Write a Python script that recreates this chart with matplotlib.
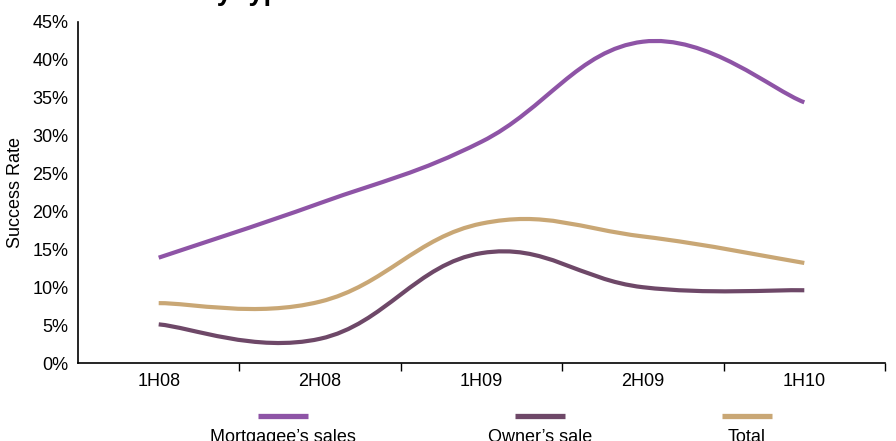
import matplotlib.pyplot as plt
import numpy as np
from matplotlib.path import Path
from matplotlib.patches import PathPatch
from matplotlib.lines import Line2D

plt.rcParams['font.family'] = ['Liberation Sans', 'DejaVu Sans']

periods = ["1H08", "2H08", "1H09", "2H09", "1H10"]
mortgagee = [13.9, 21.1, 29.2, 42.4, 34.4]
owner = [5.1, 3.2, 14.5, 10.0, 9.6]
total = [7.9, 8.1, 18.4, 16.7, 13.2]

series = [("Mortgagee\u2019s sales", mortgagee, "#8E54A6"),
          ("Owner\u2019s sale", owner, "#6E4868"),
          ("Total", total, "#C9A775")]


def smooth_path(xs, ys, k=0.2):
    # cubic bezier through every point, tangents from the neighbours
    pts = np.column_stack([xs, ys]).astype(float)
    ext = np.vstack([pts[0], pts, pts[-1]])
    verts = [pts[0]]
    codes = [Path.MOVETO]
    for i in range(len(pts) - 1):
        p0, p1, p2, p3 = ext[i], ext[i + 1], ext[i + 2], ext[i + 3]
        c1 = p1 + (p2 - p0) * k
        c2 = p2 - (p3 - p1) * k
        verts += [c1, c2, p2]
        codes += [Path.CURVE4] * 3
    return Path(verts, codes)


fig = plt.figure(figsize=(8.96, 4.41), dpi=100)
ax = fig.add_axes([78/896, 1 - 363/441, (885 - 78)/896, (363 - 22)/441])

x = np.arange(len(periods))
for name, vals, col in series:
    ax.add_patch(PathPatch(smooth_path(x, vals), facecolor="none",
                           edgecolor=col, lw=3, capstyle="butt"))

ax.set_xlim(-0.5, 4.5)
ax.set_ylim(0, 45)
ax.set_yticks(range(0, 46, 5))
ax.set_yticklabels([f"{v}%" for v in range(0, 46, 5)], fontsize=13)
ax.set_xticks(x)
ax.set_xticklabels(periods, fontsize=13)
ax.set_xticks(np.arange(0.5, 5, 1), minor=True)
ax.tick_params(axis="x", which="major", length=0, pad=7)
ax.tick_params(axis="x", which="minor", length=5.5, width=1)
ax.tick_params(axis="y", length=0, pad=7)
for s in ["top", "right"]:
    ax.spines[s].set_visible(False)
for s in ["left", "bottom"]:
    ax.spines[s].set_linewidth(1.2)
ax.set_ylabel("Success Rate", fontsize=13, labelpad=6)

fig.text(26/896, 1 + 0.5/441, "Success rate by type", fontsize=19.5,
         fontweight="bold", va="baseline", ha="left")

# legend: short bar above each label
for (name, vals, col), cx in zip(series, [283, 540, 747]):
    fig.add_artist(Line2D([(cx - 25)/896, (cx + 25)/896], [1 - 416/441] * 2,
                          color=col, lw=3.8, solid_capstyle="butt"))
    fig.text(cx/896, -0.5/441, name, fontsize=13, ha="center", va="baseline")

fig.savefig("out.png", dpi=100)
